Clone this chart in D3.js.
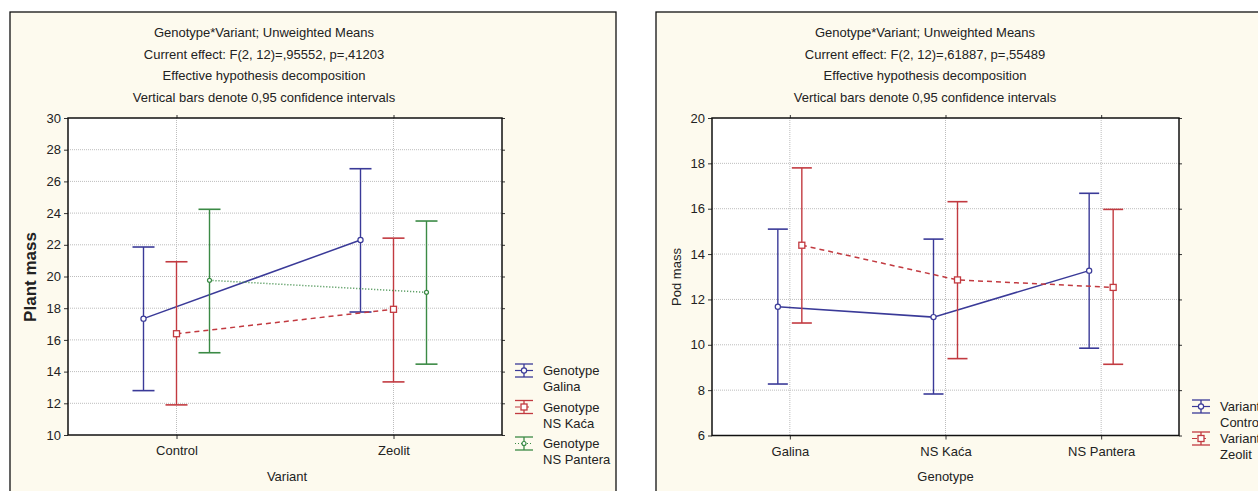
<!DOCTYPE html>
<html>
<head>
<meta charset="utf-8">
<script src="https://cdn.jsdelivr.net/npm/d3@7"></script>
<style>
  body { margin: 0; background: #fff; }
  svg text { font-family: "Liberation Sans", Arial, sans-serif; fill: #222; }
</style>
</head>
<body>
<div class="container"></div>
<script>
// ---- datos panel izquierdo (Plant mass) ----
const variantes = ["Control", "Zeolit"]
const genotipos = ["Galina", "NS Kaća", "NS Pantera"]
const plantMedia = [[17.34, 22.3], [16.39, 17.93], [19.76, 19.0]]
const plantBajo  = [[12.8, 17.76], [11.9, 13.35], [15.19, 14.47]]
const plantAlto  = [[21.86, 26.8], [20.93, 22.42], [24.24, 23.5]]
const plantTicks = [10, 12, 14, 16, 18, 20, 22, 24, 26, 28, 30]
const plantTitulo = ["Genotype*Variant; Unweighted Means",
                     "Current effect: F(2, 12)=,95552, p=,41203",
                     "Effective hypothesis decomposition",
                     "Vertical bars denote 0,95 confidence intervals"]

// ---- datos panel derecho (Pod mass) ----
const podMedia = [[11.68, 11.22, 13.27], [14.39, 12.86, 12.53]]
const podBajo  = [[8.27, 7.83, 9.85], [10.96, 9.39, 9.14]]
const podAlto  = [[15.1, 14.66, 16.68], [17.8, 16.31, 15.97]]
const podTicks = [6, 8, 10, 12, 14, 16, 18, 20]
const podTitulo = ["Genotype*Variant; Unweighted Means",
                   "Current effect: F(2, 12)=,61887, p=,55489",
                   "Effective hypothesis decomposition",
                   "Vertical bars denote 0,95 confidence intervals"]

const WIDTH = 1258
const HEIGHT = 491

const svg = d3.select(".container")
              .append("svg")
              .attr("width", WIDTH)
              .attr("height", HEIGHT)

const estilos = [
    {color: "#3a3a98", dash: null, marca: "circle", r: 2.6},
    {color: "#c23a40", dash: "5,4", marca: "square", r: 3},
    {color: "#3b8a45", dash: "1,2", marca: "circle", r: 2}
]

const marcador = (g, est, x, y) => {
    if (est.marca == "square") {
        g.append("rect")
         .attr("x", x - est.r).attr("y", y - est.r)
         .attr("width", est.r * 2).attr("height", est.r * 2)
         .attr("fill", "white").attr("stroke", est.color).attr("stroke-width", 1.3)
    } else {
        g.append("circle")
         .attr("cx", x).attr("cy", y).attr("r", est.r)
         .attr("fill", "white").attr("stroke", est.color).attr("stroke-width", 1.2)
    }
}

const panel = (cfg) => {
    const g = svg.append("g")

    // fondo crema del panel
    g.append("rect")
     .attr("x", cfg.caja[0]).attr("y", cfg.caja[1])
     .attr("width", cfg.caja[2]).attr("height", cfg.caja[3])
     .attr("fill", "#fdfaee").attr("stroke", "#111").attr("stroke-width", 1.3)

    cfg.titulo.forEach((t, i) => {
        g.append("text")
         .text(t)
         .attr("x", cfg.tituloX)
         .attr("y", 37 + i * 21.5)
         .attr("text-anchor", "middle")
         .attr("font-size", "13px")
    })

    const p = cfg.plot
    const x = d3.scalePoint().domain(cfg.categorias).range([p.left, p.right]).padding(0.5)
    const y = d3.scaleLinear().domain(cfg.dominio).range([p.bottom, p.top])
    const off = d3.scalePoint().domain(d3.range(cfg.series.length)).range([-cfg.offset, cfg.offset])

    g.append("rect")
     .attr("x", p.left).attr("y", p.top)
     .attr("width", p.right - p.left).attr("height", p.bottom - p.top)
     .attr("fill", "white")

    // rejilla punteada
    g.selectAll(".gy")
     .data(cfg.ticks.slice(1, -1))
     .join("line")
     .attr("x1", p.left).attr("x2", p.right)
     .attr("y1", d => y(d)).attr("y2", d => y(d))
     .attr("stroke", "#bdbdbd").attr("stroke-dasharray", "1,1")
    g.selectAll(".gx")
     .data(cfg.categorias)
     .join("line")
     .attr("x1", d => x(d)).attr("x2", d => x(d))
     .attr("y1", p.top).attr("y2", p.bottom)
     .attr("stroke", "#bdbdbd").attr("stroke-dasharray", "1,1")

    // ejes
    const ejeY = g.append("g")
                  .attr("transform", `translate(${p.left},0)`)
                  .call(d3.axisLeft(y).tickValues(cfg.ticks).tickSize(4).tickPadding(3))
    const ejeX = g.append("g")
                  .attr("transform", `translate(0,${p.bottom})`)
                  .call(d3.axisBottom(x).tickSize(4).tickPadding(7))
    g.append("g")
     .attr("transform", `translate(${p.right},0)`)
     .call(d3.axisRight(y).tickValues(cfg.ticks).tickSize(3).tickFormat(""))
    g.append("g")
     .attr("transform", `translate(0,${p.top})`)
     .call(d3.axisTop(x).tickSize(3).tickFormat(""))
    g.selectAll(".domain").remove()
    g.selectAll(".tick line").attr("stroke", "#333")
    ejeY.selectAll("text").attr("font-size", "13px").attr("font-family", "Liberation Sans, Arial").attr("fill", "#222")
    ejeX.selectAll("text").attr("font-size", "13px").attr("font-family", "Liberation Sans, Arial").attr("fill", "#222")

    g.append("rect")
     .attr("x", p.left).attr("y", p.top)
     .attr("width", p.right - p.left).attr("height", p.bottom - p.top)
     .attr("fill", "none").attr("stroke", "#111").attr("stroke-width", 1.5)

    // titulos de ejes
    g.append("text")
     .text(cfg.xLabel)
     .attr("x", (p.left + p.right) / 2 + cfg.xLabelDx)
     .attr("y", 481)
     .attr("text-anchor", "middle")
     .attr("font-size", "13px")
    g.append("text")
     .text(cfg.yLabel)
     .attr("transform", `translate(${cfg.yLabelX} 277) rotate(-90)`)
     .attr("text-anchor", "middle")
     .attr("font-size", cfg.yBold ? "17px" : "13px")
     .attr("font-weight", cfg.yBold ? "bold" : "normal")

    // series: linea + barras de error + marcadores
    const linea = d3.line().x(d => d[0]).y(d => d[1])
    cfg.series.forEach((s, i) => {
        const est = estilos[i]
        const pts = cfg.categorias.map((c, j) => [x(c) + off(i), y(cfg.media[i][j])])
        g.append("path")
         .attr("d", linea(pts))
         .attr("fill", "none")
         .attr("stroke", est.color)
         .attr("stroke-width", 1.5)
         .attr("stroke-dasharray", est.dash)
        cfg.categorias.forEach((c, j) => {
            const cx = x(c) + off(i)
            g.append("line")
             .attr("x1", cx).attr("x2", cx)
             .attr("y1", y(cfg.bajo[i][j])).attr("y2", y(cfg.alto[i][j]))
             .attr("stroke", est.color).attr("stroke-width", 1.4)
            ;[cfg.bajo[i][j], cfg.alto[i][j]].forEach(v => {
                g.append("line")
                 .attr("x1", cx - cfg.cap).attr("x2", cx + cfg.cap)
                 .attr("y1", y(v)).attr("y2", y(v))
                 .attr("stroke", est.color).attr("stroke-width", 1.6)
            })
            marcador(g, est, cx, pts[j][1])
        })

        // leyenda
        const ly = cfg.leyenda.y + i * cfg.leyenda.paso
        const lx = cfg.leyenda.x
        g.append("line").attr("x1", lx).attr("x2", lx + 18).attr("y1", ly).attr("y2", ly)
         .attr("stroke", est.color).attr("stroke-width", 1.3)
        g.append("line").attr("x1", lx).attr("x2", lx + 18).attr("y1", ly + 13).attr("y2", ly + 13)
         .attr("stroke", est.color).attr("stroke-width", 1.3)
        g.append("line").attr("x1", lx + 9).attr("x2", lx + 9).attr("y1", ly).attr("y2", ly + 13)
         .attr("stroke", est.color).attr("stroke-width", 1.3)
        g.append("line").attr("x1", lx).attr("x2", lx + 18).attr("y1", ly + 6.5).attr("y2", ly + 6.5)
         .attr("stroke", est.color).attr("stroke-width", 1.2).attr("stroke-dasharray", est.dash)
        marcador(g, est, lx + 9, ly + 6.5)
        g.append("text").text(cfg.leyenda.titulo)
         .attr("x", lx + 28).attr("y", ly + 11).attr("font-size", "13px")
        g.append("text").text(s)
         .attr("x", lx + 28).attr("y", ly + 27).attr("font-size", "13px")
    })
}

panel({
    caja: [10, 12, 606, 500],
    titulo: plantTitulo,
    tituloX: 264,
    plot: {left: 68, right: 502, top: 118, bottom: 435},
    categorias: variantes,
    series: genotipos,
    dominio: [10, 30],
    ticks: plantTicks,
    media: plantMedia, bajo: plantBajo, alto: plantAlto,
    offset: 33,
    cap: 11,
    xLabel: "Variant", xLabelDx: 2,
    yLabel: "Plant mass", yLabelX: 36, yBold: true,
    leyenda: {x: 515, y: 364, paso: 36.5, titulo: "Genotype"}
})

panel({
    caja: [656, 12, 620, 500],
    titulo: podTitulo,
    tituloX: 925,
    plot: {left: 712, right: 1179, top: 118, bottom: 435.5},
    categorias: genotipos,
    series: variantes,
    dominio: [6, 20],
    ticks: podTicks,
    media: podMedia, bajo: podBajo, alto: podAlto,
    offset: 12,
    cap: 10,
    xLabel: "Genotype", xLabelDx: 0,
    yLabel: "Pod mass", yLabelX: 681, yBold: false,
    leyenda: {x: 1192, y: 400, paso: 32, titulo: "Variant"}
})
</script>
</body>
</html>
